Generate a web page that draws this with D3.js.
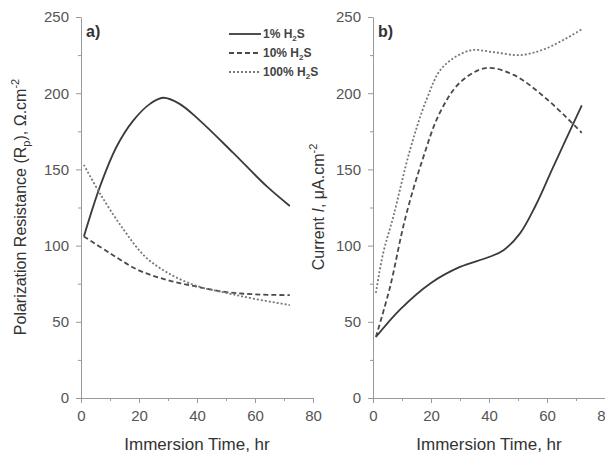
<!DOCTYPE html>
<html>
<head>
<meta charset="utf-8">
<script src="https://cdn.jsdelivr.net/npm/d3@7"></script>
<style>
  body { margin: 0; background: #fff; }
  svg { font-family: "Liberation Sans", Arial, sans-serif; }
</style>
</head>
<body>
<svg id="chart" width="605" height="455"></svg>
<script>
// series names
var seriesNames = ["1% H2S", "10% H2S", "100% H2S"];

// panel a) polarization resistance, ohm.cm-2
var timeA = [1, 6.6, 12.3, 18, 23.8, 28.3, 34, 41, 52.4, 64, 72];
var rp1 = [106, 139, 165, 182, 193, 197, 193, 182, 161, 139, 126];
var timeA10 = [1, 10, 19.7, 29.6, 40, 50, 60, 72];
var rp10 = [106, 95, 84, 77.5, 73, 69.5, 68, 67.5];
var timeA100 = [1, 6.6, 14.5, 22, 30, 40, 50, 60, 72];
var rp100 = [153, 134, 111, 93, 82, 73.5, 69, 65, 61];

// panel b) current, uA.cm-2
var timeB1 = [1, 9.3, 20, 30, 40, 45, 50.7, 56, 62, 72];
var cur1 = [40, 58, 75.5, 86, 92.5, 97, 108, 126, 151, 192];
var timeB10 = [1, 5.9, 11, 17, 23, 30, 39, 48.5, 60, 72];
var cur10 = [40, 73, 117, 156, 187, 207, 216.5, 212, 196, 174];
var timeB100 = [1, 3.5, 7, 12.8, 18.5, 24, 33.4, 41.4, 50.7, 60, 72];
var cur100 = [69, 95, 119, 163, 196, 217, 228, 227, 225, 229.6, 242];

var xTicks = [0, 20, 40, 60, 80];
var yTicks = [0, 50, 100, 150, 200, 250];

var svg = d3.select("#chart");

var styles = [
  { dash: null, color: "#3a3a3a" },
  { dash: "5,3", color: "#4a4a4a" },
  { dash: "2,2", color: "#777" }
];

function zip(xs, ys) {
  return xs.map((x, i) => ({ x: x, y: ys[i] }));
}

// each panel: its own x range
var panels = [
  { left: 81, tag: "a)", ylabel: "rp", labelOff: 55,
    series: [zip(timeA, rp1), zip(timeA10, rp10), zip(timeA100, rp100)] },
  { left: 373, tag: "b)", ylabel: "cur", labelOff: 49,
    series: [zip(timeB1, cur1), zip(timeB10, cur10), zip(timeB100, cur100)] }
];

var plotTop = 17, plotBottom = 398, plotW = 232;

panels.forEach(function(p) {
  var x = d3.scaleLinear().domain([0, 80]).range([p.left, p.left + plotW]);
  var y = d3.scaleLinear().domain([0, 250]).range([plotBottom, plotTop]);
  var g = svg.append("g");

  // minor ticks
  g.append("g").attr("transform", `translate(0,${plotBottom})`)
    .call(d3.axisBottom(x).tickValues([10, 30, 50, 70]).tickSize(3).tickFormat(""))
    .call(s => s.select(".domain").remove());
  g.append("g").attr("transform", `translate(${p.left},0)`)
    .call(d3.axisLeft(y).tickValues([25, 75, 125, 175, 225]).tickSize(3).tickFormat(""))
    .call(s => s.select(".domain").remove());

  // major axes
  var xa = g.append("g").attr("transform", `translate(0,${plotBottom})`)
    .call(d3.axisBottom(x).tickValues(xTicks).tickSize(5).tickSizeOuter(0).tickPadding(7));
  var ya = g.append("g").attr("transform", `translate(${p.left},0)`)
    .call(d3.axisLeft(y).tickValues(yTicks).tickSize(5).tickSizeOuter(0).tickPadding(7));

  [xa, ya].forEach(a => {
    a.selectAll("text").style("font-size", "15px").attr("fill", "#555");
  });
  g.selectAll(".domain, line").attr("stroke", "#999");

  // curves
  var line = d3.line().x(d => x(d.x)).y(d => y(d.y)).curve(d3.curveCatmullRom.alpha(0.5));
  p.series.forEach(function(s, i) {
    g.append("path")
      .datum(s)
      .attr("d", line)
      .attr("fill", "none")
      .attr("stroke", styles[i].color)
      .attr("stroke-width", 1.8)
      .attr("stroke-dasharray", styles[i].dash);
  });

  // panel tag
  g.append("text")
    .attr("x", p.left + 5).attr("y", 37)
    .style("font-size", "16px").style("font-weight", "bold")
    .attr("fill", "#333")
    .text(p.tag);

  // x label
  g.append("text")
    .attr("x", p.left + plotW / 2).attr("y", 450)
    .attr("text-anchor", "middle")
    .style("font-size", "17px").attr("fill", "#333")
    .text("Immersion Time, hr");

  // y label
  var yl = g.append("text")
    .attr("transform", `translate(${p.left - p.labelOff},${207}) rotate(-90)`)
    .attr("text-anchor", "middle")
    .style("font-size", "16px").attr("fill", "#333");
  if (p.ylabel === "rp") {
    yl.append("tspan").text("Polarization Resistance (R");
    yl.append("tspan").attr("dy", 4).style("font-size", "11px").text("p");
    yl.append("tspan").attr("dy", -4).text("), \u03A9.cm");
    yl.append("tspan").attr("dy", -7).style("font-size", "11px").text("-2");
  } else {
    yl.append("tspan").text("Current ");
    yl.append("tspan").style("font-style", "italic").text("I");
    yl.append("tspan").text(", \u03BCA.cm");
    yl.append("tspan").attr("dy", -7).style("font-size", "11px").text("-2");
  }
});

// legend in panel a)
var legendY = [34, 53, 72];
seriesNames.forEach(function(name, i) {
  var lg = svg.append("g");
  lg.append("line")
    .attr("x1", 229).attr("x2", 261)
    .attr("y1", legendY[i]).attr("y2", legendY[i])
    .attr("stroke", styles[i].color)
    .attr("stroke-width", 1.8)
    .attr("stroke-dasharray", styles[i].dash);
  var t = lg.append("text")
    .attr("x", 263).attr("y", legendY[i] + 4)
    .style("font-size", "12px").style("font-weight", "bold")
    .attr("fill", "#444");
  var parts = name.split("2");
  t.append("tspan").text(parts[0]);
  t.append("tspan").attr("dy", 3).style("font-size", "8px").text("2");
  t.append("tspan").attr("dy", -3).text(parts[1]);
});
</script>
</body>
</html>
